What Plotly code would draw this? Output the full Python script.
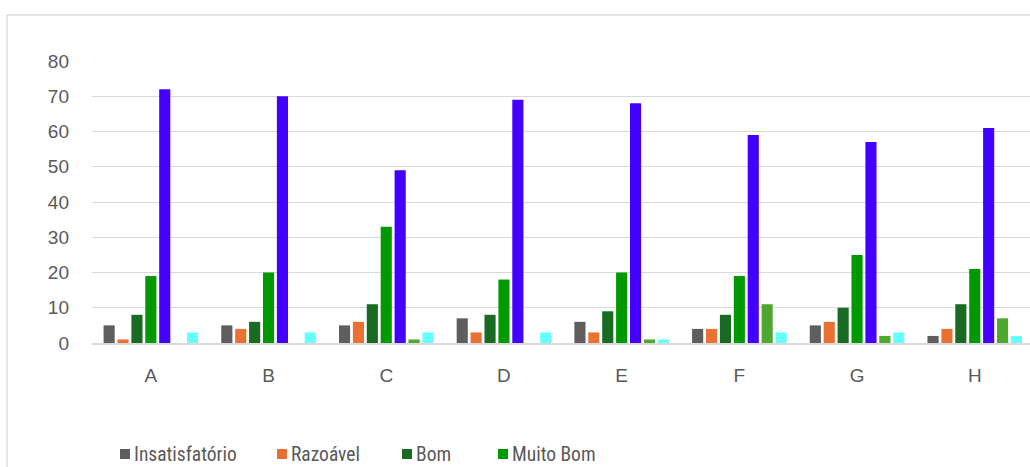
import plotly.graph_objects as go

# Categories and ratings per category
categories = ["A", "B", "C", "D", "E", "F", "G", "H"]

insatisfatorio = [5, 5, 5, 7, 6, 4, 5, 2]
razoavel = [1, 4, 6, 3, 3, 4, 6, 4]
bom = [8, 6, 11, 8, 9, 8, 10, 11]
muito_bom = [19, 20, 33, 18, 20, 19, 25, 21]
excelente = [72, 70, 49, 69, 68, 59, 57, 61]
nao_se_aplica = [0, 0, 1, 0, 1, 11, 2, 7]
sem_resposta = [3, 3, 3, 3, 1, 3, 3, 2]

series_names = ["Insatisfatório", "Razoável", "Bom", "Muito Bom",
                "Excelente", "Não se aplica", "Sem resposta"]
series_values = [insatisfatorio, razoavel, bom, muito_bom,
                 excelente, nao_se_aplica, sem_resposta]
series_colors = ["#5E5E5E", "#E97132", "#196B24", "#009A00",
                 "#4400FF", "#4EA72E", "#66FFFF"]

y_ticks = [0, 10, 20, 30, 40, 50, 60, 70, 80]

W, H = 1030, 467
ML, MR, MT, MB = 92, 0, 61, 124
plot_w = W - ML - MR
plot_h = H - MT - MB
cat_px = 117.7  # width of one category band

fig = go.Figure()
for name, vals, col in zip(series_names, series_values, series_colors):
    fig.add_trace(go.Bar(
        x=categories, y=vals, name=name,
        marker=dict(color=col, line=dict(width=0)),
        showlegend=False,
    ))

text_color = "#595959"
grid_color = "#D9D9D9"

fig.update_layout(
    width=W, height=H,
    margin=dict(l=ML, r=MR, t=MT, b=MB),
    paper_bgcolor="white", plot_bgcolor="white",
    barmode="group", bargap=0.173, bargroupgap=0.2,
    font=dict(family="Liberation Sans, Arial, sans-serif", color=text_color),
    xaxis=dict(
        type="category",
        range=[-0.5, -0.5 + plot_w / cat_px],
        showgrid=False, zeroline=False,
        showline=True, linecolor=grid_color, linewidth=1.6,
        ticks="", tickfont=dict(size=19, color=text_color),
        ticklabelstandoff=14,
    ),
    yaxis=dict(
        range=[0, 80], tickvals=y_ticks,
        showgrid=True, gridcolor=grid_color, gridwidth=1.3,
        zeroline=False, showline=False, ticks="",
        tickfont=dict(size=19, color=text_color),
        ticklabelstandoff=22,
    ),
)

# chart frame (left and top edges visible)
def px_x(px):
    return (px - ML) / plot_w

def px_y(py):
    return (H - MB - py) / plot_h

fig.add_shape(type="rect", xref="paper", yref="paper",
              x0=px_x(7), x1=px_x(W + 20), y0=px_y(H + 20), y1=px_y(15),
              line=dict(color=grid_color, width=1.3), fillcolor="rgba(0,0,0,0)",
              layer="below")

# legend row
legend_x = [120, 277, 402, 498]
legend_y = 454
for i, lx in enumerate(legend_x):
    fig.add_shape(type="rect", xref="paper", yref="paper",
                  x0=px_x(lx), x1=px_x(lx + 10),
                  y0=px_y(legend_y + 5), y1=px_y(legend_y - 5),
                  fillcolor=series_colors[i], line=dict(width=0))
    fig.add_annotation(xref="paper", yref="paper",
                       x=px_x(lx + 12), y=px_y(legend_y),
                       xanchor="left", yanchor="middle",
                       text=series_names[i], showarrow=False,
                       font=dict(size=19.5, color=text_color,
                                 family="Liberation Sans Narrow, Roboto Condensed, Liberation Sans, sans-serif"))

fig.write_html("out.html")
